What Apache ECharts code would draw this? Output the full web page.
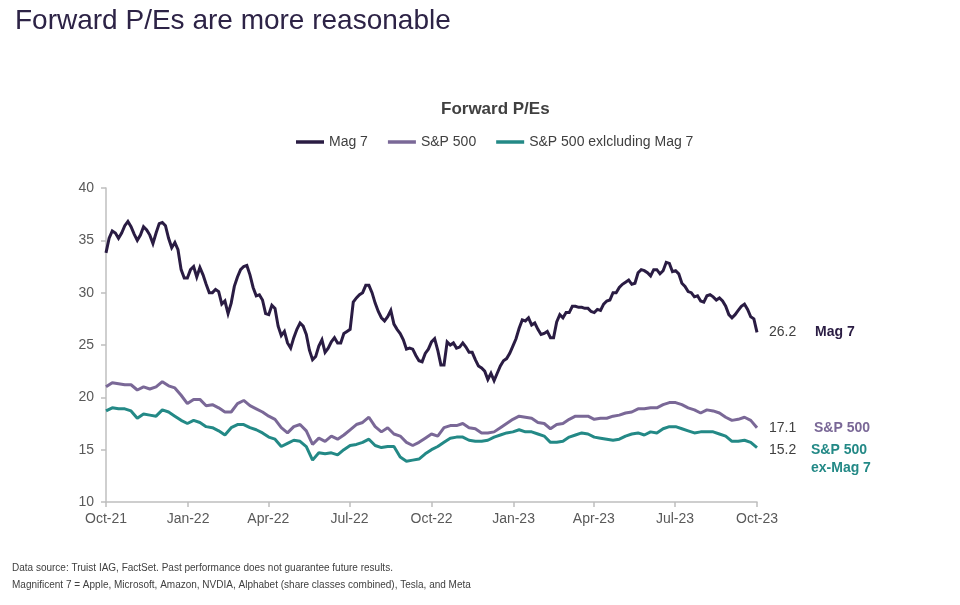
<!DOCTYPE html>
<html>
<head>
<meta charset="utf-8">
<script src="https://cdn.jsdelivr.net/npm/echarts@6/dist/echarts.min.js"></script>
<style>
html,body{margin:0;padding:0;background:#fff;}
#chart{width:960px;height:605px;}
</style>
</head>
<body>
<div id="chart"></div>
<script>
// ---- Data ----
const startDate = '2021-10-01';
const endDate = '2023-10-01';

const tickDates = ['2021-10-01','2022-01-01','2022-04-01','2022-07-01','2022-10-01','2023-01-01','2023-04-01','2023-07-01','2023-10-01'];
const tickLabels = ['Oct-21','Jan-22','Apr-22','Jul-22','Oct-22','Jan-23','Apr-23','Jul-23','Oct-23'];

const yTicks = [10, 15, 20, 25, 30, 35, 40];

const seriesNames = ['Mag 7', 'S&P 500', 'S&P 500 exlcluding Mag 7'];
const endNames = ['Mag 7', 'S&P 500', 'S&P 500\nex-Mag 7'];

// Mag 7 forward P/E, sampled twice a week
const mag7 = [
  33.8, 35.2, 35.9, 35.7, 35.2, 35.7, 36.4, 36.8, 36.3, 35.6,
  35.0, 35.5, 36.3, 36.0, 35.5, 34.7, 35.7, 36.6, 36.7, 36.4,
  35.2, 34.3, 34.8, 34.1, 32.2, 31.4, 31.4, 32.2, 32.5, 31.5,
  32.4, 31.7, 30.8, 30.0, 30.0, 30.3, 30.1, 28.9, 29.2, 28.0,
  29.0, 30.6, 31.5, 32.2, 32.5, 32.6, 31.7, 30.5, 29.7, 29.8,
  29.3, 28.0, 27.9, 28.8, 28.5, 26.8, 25.9, 26.3, 25.2, 24.7,
  25.7, 26.5, 27.1, 26.8, 26.0, 24.5, 23.6, 23.9, 24.9, 25.5,
  24.3, 24.7, 25.3, 25.7, 25.2, 25.2, 26.1, 26.3, 26.5, 29.1,
  29.5, 29.8, 30.0, 30.7, 30.7, 30.0, 29.0, 28.2, 27.6, 27.3,
  27.7, 28.3, 27.0, 26.5, 26.1, 25.5, 24.6, 24.7, 24.6, 24.0,
  23.5, 23.4, 24.2, 24.6, 25.3, 25.6, 24.5, 23.1, 23.1, 25.3,
  25.0, 25.2, 24.7, 24.8, 25.2, 24.8, 24.3, 24.3, 23.6, 23.0,
  22.8, 22.5, 21.7, 22.3, 21.6, 22.3, 23.0, 23.5, 23.7, 24.2,
  24.9, 25.6, 26.6, 27.4, 27.3, 27.6, 26.9, 27.1, 26.5, 26.0,
  26.1, 26.3, 25.7, 25.7, 27.2, 27.9, 27.6, 28.1, 28.1, 28.7,
  28.7, 28.6, 28.6, 28.5, 28.5, 28.2, 28.1, 28.4, 28.3, 28.9,
  29.2, 29.3, 30.0, 30.0, 30.5, 30.8, 31.0, 31.2, 30.8, 30.9,
  31.9, 32.2, 32.1, 31.9, 31.6, 32.2, 32.2, 31.8, 32.1, 32.9,
  32.8, 32.0, 32.1, 31.8, 30.9, 30.6, 30.1, 30.0, 29.6, 29.7,
  29.2, 29.1, 29.7, 29.8, 29.6, 29.3, 29.5, 29.2, 28.7, 27.9,
  27.6, 27.9, 28.3, 28.7, 28.9, 28.4, 27.7, 27.5, 26.2
];

// S&P 500 forward P/E, weekly
const sp500 = [
  21.0, 21.4, 21.3, 21.2, 21.2, 20.7, 21.0, 20.8, 21.0, 21.5,
  21.1, 20.9, 20.2, 19.4, 19.8, 19.8, 19.2, 19.3, 19.0, 18.6,
  18.6, 19.4, 19.7, 19.2, 18.9, 18.6, 18.2, 17.9, 17.1, 16.6,
  17.2, 17.4, 16.8, 15.5, 16.1, 15.8, 16.3, 16.0, 16.4, 16.9,
  17.4, 17.6, 18.1, 17.2, 16.7, 17.1, 16.5, 16.3, 15.7, 15.4,
  15.7, 16.1, 16.5, 16.3, 17.1, 17.3, 17.3, 17.5, 17.1, 17.0,
  16.6, 16.6, 16.7, 17.1, 17.5, 17.9, 18.2, 18.1, 18.0, 17.6,
  17.5, 17.0, 17.4, 17.5, 17.9, 18.2, 18.2, 18.2, 17.9, 18.0,
  18.0, 18.2, 18.3, 18.5, 18.6, 18.9, 18.9, 19.0, 19.0, 19.3,
  19.5, 19.5, 19.3, 19.0, 18.8, 18.5, 18.8, 18.7, 18.5, 18.1,
  17.8, 17.9, 18.1, 17.8, 17.1
];

// S&P 500 excluding Mag 7 forward P/E, weekly
const sp500ExMag7 = [
  18.7, 19.0, 18.9, 18.9, 18.7, 18.0, 18.4, 18.3, 18.2, 18.8,
  18.6, 18.2, 17.8, 17.5, 17.8, 17.6, 17.2, 17.1, 16.8, 16.4,
  17.1, 17.4, 17.4, 17.1, 16.9, 16.6, 16.2, 16.0, 15.3, 15.6,
  15.9, 15.8, 15.3, 14.0, 14.7, 14.6, 14.7, 14.5, 15.0, 15.4,
  15.5, 15.7, 16.0, 15.4, 15.2, 15.3, 15.3, 14.3, 13.9, 14.0,
  14.1, 14.6, 15.0, 15.3, 15.7, 16.1, 16.2, 16.2, 15.9, 15.8,
  15.8, 15.9, 16.2, 16.4, 16.6, 16.7, 16.9, 16.7, 16.7, 16.5,
  16.3, 15.7, 15.7, 15.8, 16.2, 16.4, 16.6, 16.5, 16.2, 16.1,
  16.0, 15.9, 16.0, 16.3, 16.5, 16.6, 16.4, 16.7, 16.6, 17.0,
  17.2, 17.2, 17.0, 16.8, 16.6, 16.7, 16.7, 16.7, 16.5, 16.3,
  15.8, 15.8, 15.9, 15.7, 15.2
];

const colors = ['#2a1c43', '#7a6897', '#238986'];

// ---- Build chart ----
const toTs = s => { const p = s.split('-').map(Number); return Date.UTC(p[0], p[1]-1, p[2]); };
const t0 = toTs(startDate), t1 = toTs(endDate);
const sampleTimes = mag7.map((_, k) => t0 + (t1 - t0) * k / (mag7.length - 1));
const tickTimes = tickDates.map(toTs);

const mag7Data = mag7.map((v, k) => [sampleTimes[k], v]);
const spData = sp500.map((v, i) => [sampleTimes[i * 2], v]);
const exData = sp500ExMag7.map((v, i) => [sampleTimes[i * 2], v]);

const chart = echarts.init(document.getElementById('chart'), null, {renderer: 'canvas'});
const FONT = 'Liberation Sans, Arial, sans-serif';

function endLabel(color, nameText, valueWidth, offsetY) {
  return {
    show: true,
    distance: 12,
    offset: [0, offsetY],
    formatter: p => {
      const lines = nameText.split('\n');
      let s = '{v|' + p.value[1].toFixed(1) + '}{n|' + lines[0] + '}';
      for (let i = 1; i < lines.length; i++) s += '\n{s|}{n|' + lines[i] + '}';
      return s;
    },
    rich: {
      v: {width: valueWidth, fontSize: 14, color: '#404040', fontFamily: FONT, lineHeight: 18},
      s: {width: valueWidth, fontSize: 14, lineHeight: 18},
      n: {fontSize: 14, fontWeight: 'bold', color: color, fontFamily: FONT, lineHeight: 18}
    }
  };
}

chart.setOption({
  animation: false,
  textStyle: {fontFamily: FONT},
  title: [
    {text: 'Forward P/Es are more reasonable', left: 10, top: 2,
     textStyle: {fontSize: 28, fontWeight: 'normal', color: '#2d2346', fontFamily: FONT}},
    {text: 'Forward P/Es', left: 436, top: 96,
     textStyle: {fontSize: 17, fontWeight: 'bold', color: '#404040', fontFamily: FONT}}
  ],
  legend: {
    data: seriesNames,
    left: 291, top: 130,
    icon: 'rect', itemWidth: 28, itemHeight: 3.5, itemGap: 20,
    textStyle: {fontSize: 14, color: '#404040', fontFamily: FONT}
  },
  grid: {left: 106, right: 203, top: 188, bottom: 103, containLabel: false},
  xAxis: {
    type: 'value',
    min: t0, max: t1,
    axisLine: {show: true, lineStyle: {color: '#bfbfbf', width: 1.5}},
    axisTick: {show: true, length: 5, lineStyle: {color: '#bfbfbf', width: 1.5}, customValues: tickTimes},
    axisLabel: {
      customValues: tickTimes,
      fontSize: 14, color: '#595959', margin: 10, fontFamily: FONT,
      formatter: val => { const i = tickTimes.indexOf(val); return i >= 0 ? tickLabels[i] : ''; }
    },
    splitLine: {show: false}
  },
  yAxis: {
    type: 'value', min: yTicks[0], max: yTicks[yTicks.length - 1], interval: 5,
    axisLine: {show: true, lineStyle: {color: '#bfbfbf', width: 1.5}},
    axisTick: {show: true, length: 5, lineStyle: {color: '#bfbfbf', width: 1.5}},
    axisLabel: {fontSize: 14, color: '#595959', margin: 12, fontFamily: FONT},
    splitLine: {show: false}
  },
  series: [
    {name: seriesNames[0], type: 'line', data: mag7Data, showSymbol: false, color: colors[0],
     lineStyle: {width: 3, color: colors[0], join: 'miter'}, z: 3,
     endLabel: endLabel(colors[0], endNames[0], 46, 0)},
    {name: seriesNames[1], type: 'line', data: spData, showSymbol: false, color: colors[1],
     lineStyle: {width: 3, color: colors[1]}, z: 2,
     endLabel: endLabel(colors[1], endNames[1], 45, 0)},
    {name: seriesNames[2], type: 'line', data: exData, showSymbol: false, color: colors[2],
     lineStyle: {width: 3, color: colors[2]}, z: 2,
     endLabel: endLabel(colors[2], endNames[2], 42, 12)}
  ],
  graphic: [
    {type: 'text', left: 12, top: 563,
     style: {text: 'Data source: Truist IAG, FactSet. Past performance does not guarantee future results.',
             fontSize: 10, fill: '#404040', fontFamily: FONT}},
    {type: 'text', left: 12, top: 580,
     style: {text: 'Magnificent 7 = Apple, Microsoft, Amazon, NVDIA, Alphabet (share classes combined), Tesla, and Meta',
             fontSize: 10, fill: '#404040', fontFamily: FONT}}
  ]
});
</script>
</body>
</html>
